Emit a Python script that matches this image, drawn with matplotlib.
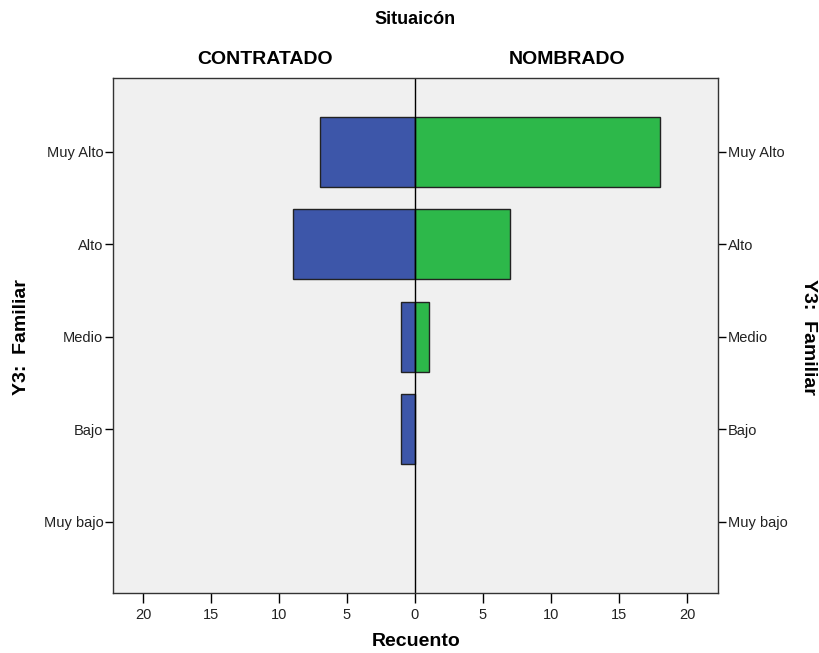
import matplotlib.pyplot as plt

plt.rcParams['font.family'] = ['Liberation Sans', 'DejaVu Sans']

niveles = ['Muy Alto', 'Alto', 'Medio', 'Bajo', 'Muy bajo']
contratado = [7, 9, 1, 1, 0]
nombrado = [18, 7, 1, 0, 0]
ticks_x = [-20, -15, -10, -5, 0, 5, 10, 15, 20]

azul = '#3d56a9'
verde = '#2db84a'

fig = plt.figure(figsize=(8.19, 6.53), dpi=100)
ax = fig.add_axes([0.138, 0.092, 0.739, 0.789])
ax.set_facecolor('#f0f0f0')

pos = list(range(len(niveles)))
# las barras con recuento 0 no se dibujan (sin borde)
ax.barh(pos, [-v for v in contratado], height=0.76, color=azul, edgecolor='#222222',
        linewidth=[1 if v else 0 for v in contratado])
ax.barh(pos, nombrado, height=0.76, color=verde, edgecolor='#222222',
        linewidth=[1 if v else 0 for v in nombrado])
ax.axvline(0, color='black', linewidth=1)

ax.set_xlim(-22.2, 22.3)
ax.set_ylim(4.77, -0.8)
ax.set_xticks(ticks_x)
ax.set_xticklabels([str(abs(t)) for t in ticks_x], fontsize=10.5, color='#222222')
ax.set_yticks(pos)
ax.set_yticklabels(niveles, fontsize=10.5, color='#222222')
ax.tick_params(axis='y', which='both', left=True, right=True, labelleft=True, labelright=True,
               direction='out', length=6, width=1, pad=1)
ax.tick_params(axis='x', direction='out', length=7, width=1, pad=4)
for s in ax.spines.values():
    s.set_color('#333333')
    s.set_linewidth(1)

ax.set_xlabel('Recuento', fontsize=14, fontweight='bold', labelpad=8)

fig.text(415/819, 1 - 20/653, 'Situaicón', ha='center', va='center', fontsize=13, fontweight='bold')
fig.text(265/819, 1 - 60/653, 'CONTRATADO', ha='center', va='center', fontsize=14, fontweight='bold')
fig.text(567/819, 1 - 60/653, 'NOMBRADO', ha='center', va='center', fontsize=14, fontweight='bold')
fig.text(22/819, 1 - 337/653, 'Y3:  Familiar', ha='center', va='center', rotation=90, fontsize=14, fontweight='bold')
fig.text(808/819, 1 - 337/653, 'Y3:  Familiar', ha='center', va='center', rotation=-90, fontsize=14, fontweight='bold')

fig.savefig('out.png', dpi=100)
